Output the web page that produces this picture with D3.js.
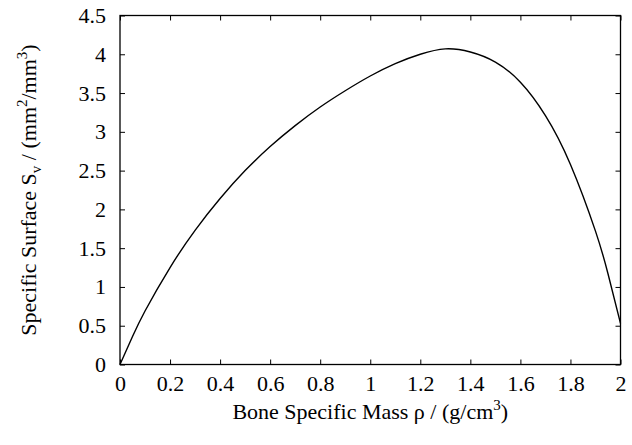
<!DOCTYPE html>
<html><head><meta charset="utf-8">
<script src="https://cdn.jsdelivr.net/npm/d3@7"></script>
<style>body{margin:0;background:#fff}svg{display:block}svg text{font-family:'Liberation Serif','Times New Roman',Times,serif !important}</style>
</head><body>
<svg id="c" width="632" height="445"></svg>
<script>
const rho = [0, 0.05, 0.1, 0.2, 0.3, 0.4, 0.5, 0.6, 0.7, 0.8, 0.9, 1.0, 1.1, 1.2, 1.3, 1.4, 1.5, 1.6, 1.7, 1.8, 1.9, 1.95, 2.0];
const sv  = [0, 0.36, 0.69, 1.25, 1.73, 2.14, 2.50, 2.81, 3.08, 3.32, 3.53, 3.72, 3.88, 4.00, 4.07, 4.03, 3.90, 3.64, 3.21, 2.58, 1.72, 1.17, 0.53];
const xTicks = [0, 0.2, 0.4, 0.6, 0.8, 1, 1.2, 1.4, 1.6, 1.8, 2];
const yTicks = [0, 0.5, 1, 1.5, 2, 2.5, 3, 3.5, 4, 4.5];

const FS = 22, SS = 15;
const L = 120, R = 620.5, T = 15.5, B = 364.5;
const svg = d3.select("#c");
const x = d3.scaleLinear().domain([0, 2]).range([L, R]);
const y = d3.scaleLinear().domain([0, 4.5]).range([B, T]);
const fmt = d => String(d);

const ax = [
  [d3.axisBottom(x).tickValues(xTicks).tickFormat(fmt), `translate(0,${B})`, 11],
  [d3.axisTop(x).tickValues(xTicks).tickFormat(""), `translate(0,${T})`, 0],
  [d3.axisLeft(y).tickValues(yTicks).tickFormat(fmt), `translate(${L},0)`, 14],
  [d3.axisRight(y).tickValues(yTicks).tickFormat(""), `translate(${R},0)`, 0]
];
ax.forEach(([a, tr, pad]) => {
  const gg = svg.append("g").attr("transform", tr)
    .call(a.tickSizeInner(-5).tickSizeOuter(0).tickPadding(pad));
  gg.attr("font-family", null).attr("font-size", FS);
  gg.select(".domain").remove();
  gg.selectAll("line").attr("stroke", "#000").attr("stroke-width", 1);
  gg.selectAll("text").attr("fill", "#000").attr("font-size", FS);
});
svg.append("rect").attr("x", L).attr("y", T).attr("width", R - L).attr("height", B - T)
  .attr("fill", "none").attr("stroke", "#000").attr("stroke-width", 1.3);

const pts = rho.map((r, i) => [r, sv[i]]);
svg.append("path").datum(pts)
  .attr("d", d3.line().x(d => x(d[0])).y(d => y(d[1])).curve(d3.curveNatural))
  .attr("fill", "none").attr("stroke", "#000").attr("stroke-width", 1.4);

const xl = svg.append("text").attr("x", (L + R) / 2).attr("y", 419).attr("text-anchor", "middle")
  .attr("font-size", FS);
xl.append("tspan").text("Bone Specific Mass ρ / (g/cm");
xl.append("tspan").attr("dy", -9).attr("font-size", SS).text("3");
xl.append("tspan").attr("dy", 9).text(")");

const yl = svg.append("text").attr("transform", `translate(36,${(T + B) / 2}) rotate(-90)`).attr("text-anchor", "middle")
  .attr("font-size", FS);
yl.append("tspan").text("Specific Surface S");
yl.append("tspan").attr("dy", 5).attr("font-size", SS).text("v");
yl.append("tspan").attr("dy", -5).text(" / (mm");
yl.append("tspan").attr("dy", -9).attr("font-size", SS).text("2");
yl.append("tspan").attr("dy", 9).text("/mm");
yl.append("tspan").attr("dy", -9).attr("font-size", SS).text("3");
yl.append("tspan").attr("dy", 9).text(")");
</script>
</body></html>
